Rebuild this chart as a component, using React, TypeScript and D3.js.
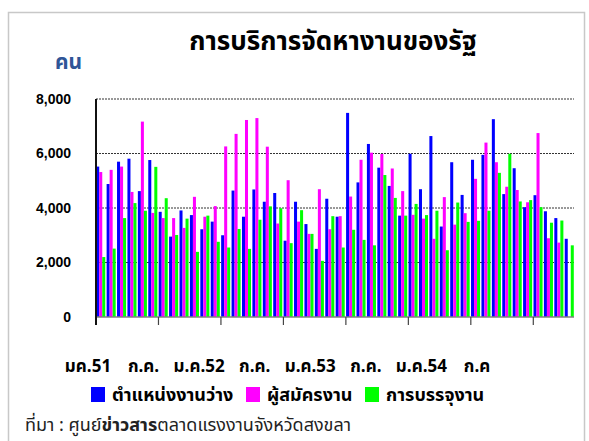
import * as d3 from "d3";
import { useEffect, useRef } from "react";

// เดือน ม.ค.51 - ต.ค.54
const months = [
  "ม.ค.51", "ก.พ.51", "มี.ค.51", "เม.ย.51", "พ.ค.51", "มิ.ย.51", "ก.ค.51", "ส.ค.51", "ก.ย.51", "ต.ค.51", "พ.ย.51", "ธ.ค.51",
  "ม.ค.52", "ก.พ.52", "มี.ค.52", "เม.ย.52", "พ.ค.52", "มิ.ย.52", "ก.ค.52", "ส.ค.52", "ก.ย.52", "ต.ค.52", "พ.ย.52", "ธ.ค.52",
  "ม.ค.53", "ก.พ.53", "มี.ค.53", "เม.ย.53", "พ.ค.53", "มิ.ย.53", "ก.ค.53", "ส.ค.53", "ก.ย.53", "ต.ค.53", "พ.ย.53", "ธ.ค.53",
  "ม.ค.54", "ก.พ.54", "มี.ค.54", "เม.ย.54", "พ.ค.54", "มิ.ย.54", "ก.ค.54", "ส.ค.54", "ก.ย.54", "ต.ค.54",
];

const vacancies = [
  5520, 4880, 5700, 5810, 4620, 5760, 3860, 2950, 3910, 3740, 3220, 3500,
  3000, 4640, 3680, 4680, 4230, 4550, 2800, 4230, 3410, 2500, 4340, 3680,
  7490, 4940, 6350, 5480, 4810, 3720, 5990, 4690, 6640, 3320, 5680, 4480,
  5770, 5950, 7260, 4510, 5460, 4030, 4470, 3880, 3630, 2870,
];

const applicants = [
  5320, 5400, 5520, 4590, 7170, 3820, 3630, 3630, 3270, 4410, 3680, 4070,
  6260, 6720, 7230, 7300, 6250, 3430, 5020, 3500, 3050, 4690, 3220, 3700,
  4420, 5770, 6030, 5980, 5450, 4620, 3750, 3610, 2870, 4400, 3390, 3810,
  5070, 6400, 5680, 4780, 4660, 4210, 6750, 2890, 2730, null,
];

const placements = [
  2200, 2510, 3630, 4180, 3900, 5510, 4360, 3010, 3610, 2390, 3720, 2760,
  2550, 3230, 2500, 3570, 4060, 3990, 2710, 3920, 3050, 2060, 3700, 2550,
  3200, 2830, 2630, 5210, 4370, 3720, 4150, 3740, 3900, 2450, 4200, 3490,
  3530, 3900, 5290, 5990, 4240, 4290, 4030, 3460, 3540, 2630,
];

const seriesNames = ["ตำแหน่งงานว่าง", "ผู้สมัครงาน", "การบรรจุงาน"];
const seriesColors = ["#0000ff", "#ff00ff", "#00ff00"];
const xLabels = ["มค.51", "ก.ค.", "ม.ค.52", "ก.ค.", "ม.ค.53", "ก.ค.", "ม.ค.54", "ก.ค"];
const yTicks = [0, 2000, 4000, 6000, 8000];

const thaiFont = "'Noto Sans Thai', Tahoma, 'Liberation Sans', 'DejaVu Sans', sans-serif";

function App() {
  const ref = useRef<SVGSVGElement>(null);

  useEffect(() => {
    const width = 589,
      height = 441;
    const left = 96,
      right = 574,
      top = 99,
      bottom = 317;

    const svg = d3.select(ref.current);
    svg.selectAll("*").remove();

    svg
      .append("rect")
      .attr("x", 0)
      .attr("y", 0)
      .attr("width", width)
      .attr("height", height)
      .attr("fill", "#fff");

    // outer frame
    svg
      .append("rect")
      .attr("x", 8.5)
      .attr("y", 12.5)
      .attr("width", 576)
      .attr("height", 440)
      .attr("fill", "none")
      .attr("stroke", "#c8c8c8")
      .attr("stroke-width", 1.5);

    const x = d3.scaleBand<string>().domain(months).range([left, right]).paddingInner(0.13).paddingOuter(0.02);
    const keys = ["0", "1", "2"];
    const xInner = d3.scaleBand<string>().domain(keys).range([0, x.bandwidth()]);
    const y = d3.scaleLinear().domain([0, 8000]).range([bottom, top]);

    // grid lines
    svg
      .append("g")
      .selectAll("line")
      .data(yTicks.filter((d) => d > 0))
      .join("line")
      .attr("x1", left)
      .attr("x2", right)
      .attr("y1", (d) => y(d))
      .attr("y2", (d) => y(d))
      .attr("stroke", "#333")
      .attr("stroke-width", 1)
      .attr("stroke-dasharray", "2,1");

    // y labels
    svg
      .append("g")
      .selectAll("text")
      .data(yTicks)
      .join("text")
      .attr("x", 71)
      .attr("y", (d) => y(d))
      .attr("dy", "0.35em")
      .attr("text-anchor", "end")
      .style("font-family", "'Liberation Sans', Arial, sans-serif")
      .style("font-weight", "bold")
      .style("font-size", "14px")
      .text((d) => d3.format(",")(d));

    // bars
    const data = months.map((m, i) => ({ m, vals: [vacancies[i], applicants[i], placements[i]] }));
    svg
      .append("g")
      .selectAll("g")
      .data(data)
      .join("g")
      .attr("transform", (d) => `translate(${x(d.m)},0)`)
      .selectAll("rect")
      .data((d) => d.vals.map((v, k) => ({ v, k })).filter((e) => e.v != null))
      .join("rect")
      .attr("x", (e) => xInner(String(e.k))!)
      .attr("width", xInner.bandwidth())
      .attr("y", (e) => y(e.v as number))
      .attr("height", (e) => bottom - y(e.v as number))
      .attr("fill", (e) => seriesColors[e.k]);

    // glow behind left axis
    const defs = svg.append("defs");
    defs
      .append("filter")
      .attr("id", "blur")
      .append("feGaussianBlur")
      .attr("stdDeviation", 2);
    svg
      .append("line")
      .attr("x1", left - 3)
      .attr("x2", left - 3)
      .attr("y1", top)
      .attr("y2", bottom + 10)
      .attr("stroke", "#7fa2d8")
      .attr("stroke-width", 4)
      .attr("opacity", 0.55)
      .attr("filter", "url(#blur)");

    // x axis
    svg
      .append("line")
      .attr("x1", left)
      .attr("x2", right)
      .attr("y1", bottom)
      .attr("y2", bottom)
      .attr("stroke", "#808080")
      .attr("stroke-width", 1.5);

    const tickIdx = d3.range(6, months.length, 6);
    svg
      .append("g")
      .selectAll("line")
      .data(tickIdx)
      .join("line")
      .attr("x1", (i) => left + i * x.step())
      .attr("x2", (i) => left + i * x.step())
      .attr("y1", bottom)
      .attr("y2", bottom + 8)
      .attr("stroke", "#444")
      .attr("stroke-width", 1.2);

    // y axis line
    svg
      .append("line")
      .attr("x1", left)
      .attr("x2", left)
      .attr("y1", top)
      .attr("y2", bottom + 8)
      .attr("stroke", "#111")
      .attr("stroke-width", 2);

    // x labels
    const xl = d3.scalePoint<number>().domain(d3.range(xLabels.length)).range([88, 477]);
    svg
      .append("g")
      .selectAll("text")
      .data(xLabels)
      .join("text")
      .attr("x", (_, i) => xl(i)!)
      .attr("y", 366)
      .attr("dy", "0.35em")
      .attr("text-anchor", "middle")
      .style("font-family", thaiFont)
      .style("font-weight", "bold")
      .style("font-size", "17px")
      .text((d) => d);

    // title
    svg
      .append("text")
      .attr("x", 333)
      .attr("y", 50)
      .attr("text-anchor", "middle")
      .style("font-family", thaiFont)
      .style("font-weight", "bold")
      .style("font-size", "26px")
      .text("การบริการจัดหางานของรัฐ");

    svg
      .append("text")
      .attr("x", 55)
      .attr("y", 69)
      .attr("fill", "#2f5597")
      .style("font-family", thaiFont)
      .style("font-weight", "bold")
      .style("font-size", "21px")
      .text("คน");

    // legend
    const legendX = [91, 246, 365];
    const lg = svg
      .append("g")
      .selectAll("g")
      .data(seriesNames)
      .join("g")
      .attr("transform", (_, i) => `translate(${legendX[i]},387)`);
    lg.append("rect")
      .attr("width", 14)
      .attr("height", 15)
      .attr("fill", (_, i) => seriesColors[i]);
    lg.append("text")
      .attr("x", 21)
      .attr("y", 8)
      .attr("dy", "0.35em")
      .style("font-family", thaiFont)
      .style("font-weight", "bold")
      .style("font-size", "18px")
      .text((d) => d);

    // source
    const src = svg
      .append("text")
      .attr("x", 25)
      .attr("y", 431)
      .attr("fill", "#222")
      .style("font-family", thaiFont)
      .style("font-size", "18px");
    src.append("tspan").text("ที่มา :  ศูนย์");
    src.append("tspan").style("font-weight", "bold").text("ข่าวสาร");
    src.append("tspan").text("ตลาดแรงงานจังหวัดสงขลา");

    return () => {
      svg.selectAll("*").remove();
    };
  }, []);

  return (
    <div style={{ position: "fixed", left: 0, top: 0 }}>
      <svg ref={ref} width={589} height={441} style={{ display: "block" }} />
    </div>
  );
}

export default App;
